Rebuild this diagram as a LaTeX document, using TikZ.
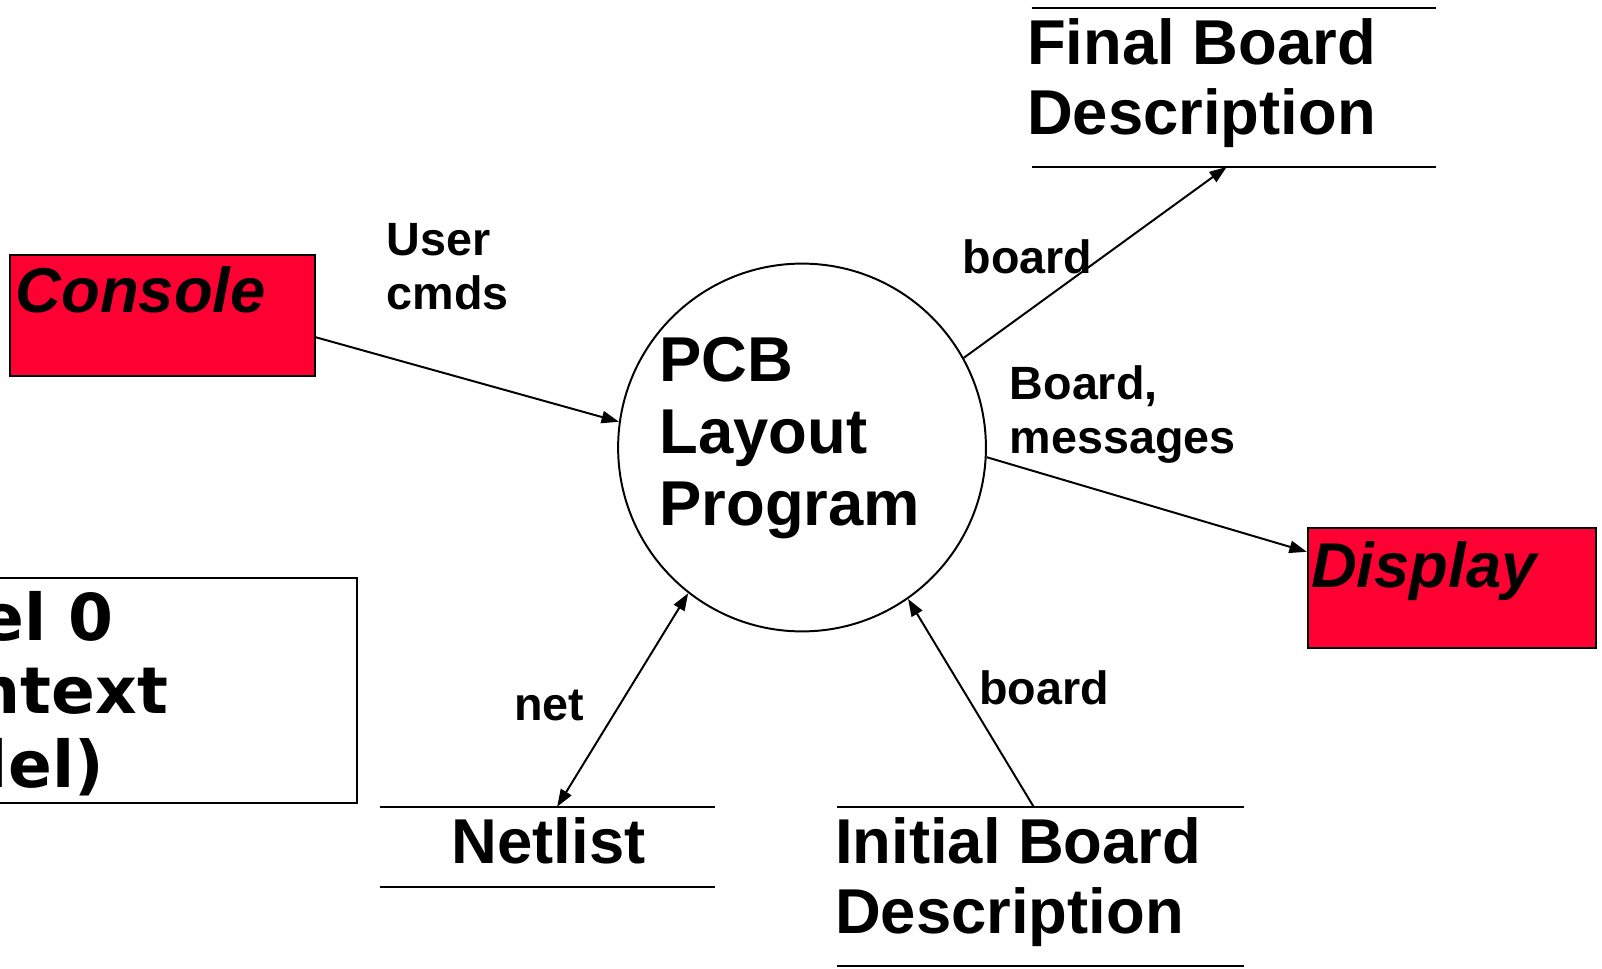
\documentclass[tikz,border=0pt]{standalone}
\usepackage{fontspec}
\setmainfont{Liberation Sans}
\newfontfamily\dejavu{DejaVu Sans}
\usetikzlibrary{arrows.meta}
\usetikzlibrary{positioning}

\definecolor{termred}{RGB}{255,0,51}

\tikzset{
  flow/.style={line width=1.1pt, -{Triangle[length=3.4mm,width=2.4mm]}},
  flowboth/.style={line width=1.1pt, {Triangle[length=3.4mm,width=2.4mm]}-{Triangle[length=3.4mm,width=2.4mm]}},
  bigtext/.style={font=\fontsize{35.3}{39}\selectfont\bfseries, inner sep=0pt, align=left},
  termtext/.style={font=\fontsize{35.3}{39}\selectfont\bfseries\itshape, inner sep=0pt},
  flowlabel/.style={font=\fontsize{26}{30}\selectfont\bfseries, inner sep=0pt, align=left},
  terminal/.style={draw, line width=1.1pt, fill=termred, rectangle, inner sep=0pt},
  store/.style={rectangle, inner sep=0pt},
}

\begin{document}
\begin{tikzpicture}[x=0.2mm,y=-0.2mm]
\useasboundingbox (0,0) rectangle (1568,948);

\node[terminal, minimum width=59.6mm, minimum height=23.6mm] (console) at (159,309) {};
\node[termtext, anchor=base west] (consoletxt) at (15,306) {Console};

\node[terminal, minimum width=56.4mm, minimum height=23.4mm] (display) at (1421,575.5) {};
\node[termtext, anchor=base west] (displaytxt) at (1283,575) {Display};

\node[circle, draw, line width=1.1pt, minimum size=72mm, inner sep=0pt] (pcb) at (785,438) {};
\node[bigtext, font=\fontsize{35.3}{40}\selectfont\bfseries, anchor=north west] (pcbtxt) at (645,330) {PCB\\Layout\\Program};

\node[store, minimum width=79mm, minimum height=31mm] (final) at (1207.5,85.5) {};
\node[bigtext, anchor=north west] (finaltxt) at (1005,18) {Final Board\\Description};
\node[store, minimum width=65.4mm, minimum height=15.6mm] (netlist) at (535.5,829) {};
\node[bigtext, anchor=base] (netlisttxt) at (537,845) {Netlist};
\node[store, minimum width=79.4mm, minimum height=31mm] (initial) at (1018.5,867.5) {};
\node[bigtext, anchor=north west] (initialtxt) at (817,800) {Initial Board\\Description};

\foreach \s in {final,netlist,initial}
  \draw[line width=1.1pt] (\s.north west) -- (\s.north east) (\s.south west) -- (\s.south east);

\node[draw, line width=1.1pt, minimum width=102.8mm, minimum height=44mm] (level) at (92,676) {};
\node[font=\dejavu\fontsize{36}{41}\selectfont\bfseries, align=left, inner sep=0pt, anchor=north west] (leveltxt) at (-144,578) {Level 0\\(Context\\Model)};

\node[flowlabel, anchor=north west] (cmdslbl) at (378,218) {User\\cmds};
\node[flowlabel, anchor=base west] (boardoutlbl) at (942,268) {board};
\node[flowlabel, anchor=north west] (msglbl) at (988,358) {Board,\\messages};
\node[flowlabel, anchor=base west] (netlbl) at (503,705) {net};
\node[flowlabel, anchor=base west] (boardinlbl) at (958,690) {board};

\draw[flow] (console.-8) -- (pcb.172);
\draw[flow] (pcb.29) -- (final.-95);
\draw[flow] (pcb.-3) -- (display.166);
\draw[flowboth] (netlist.76) -- (pcb.232);
\draw[flow] (initial.95) -- (pcb.-55);

\end{tikzpicture}
\end{document}
